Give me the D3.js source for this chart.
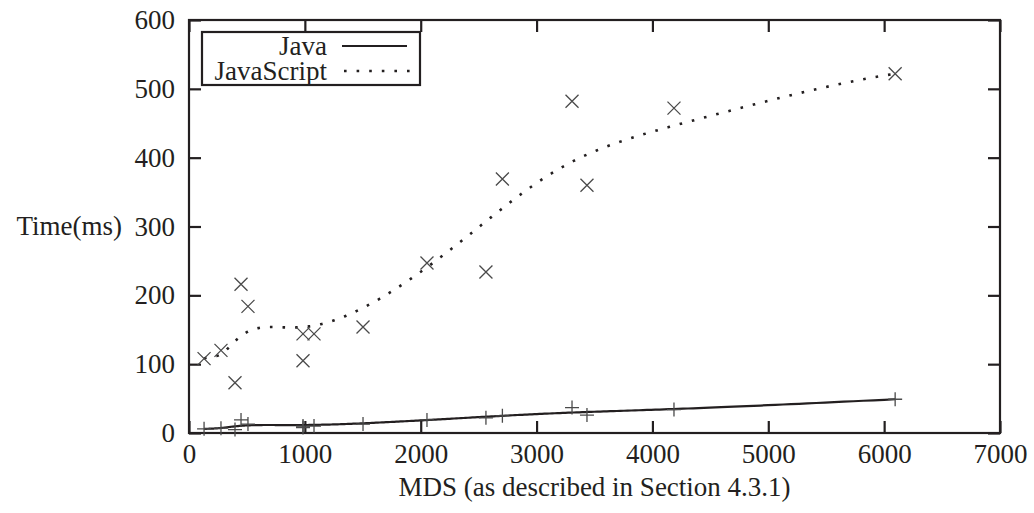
<!DOCTYPE html>
<html>
<head>
<meta charset="utf-8">
<script src="https://cdn.jsdelivr.net/npm/d3@7"></script>
<style>
body{margin:0;background:#fff}
text{font-family:"Liberation Serif","Times New Roman",serif;fill:#231f20}
</style>
</head>
<body>
<div id="chart"></div>
<script>
// values
var mdsSizes = [130, 276, 397, 449, 509, 984, 984, 1079, 1502, 2054, 2563, 2705, 3306, 3435, 4186, 6095]
var javaTimes = [6, 7, 5, 19, 13, 10, 8, 10, 13, 19, 22, 25, 37, 26, 34, 49]
var jsTimes = [108, 120, 73, 216, 184, 144, 105, 144, 154, 247, 234, 369, 482, 360, 472, 522]
var xTicks = [0, 1000, 2000, 3000, 4000, 5000, 6000, 7000]
var yTicks = [0, 100, 200, 300, 400, 500, 600]
var seriesNames = ["Java", "JavaScript"]

var W = 1034, H = 513
var pLeft = 189, pRight = 1000, pTop = 20, pBottom = 433
var ink = "#231f20", markInk = "#4a4a4a"

var svg = d3.select("#chart").append("svg").attr("width", W).attr("height", H)

var x = d3.scaleLinear().domain([0, 7000]).range([pLeft, pRight])
var y = d3.scaleLinear().domain([0, 600]).range([pBottom, pTop])

function styleAxis(g){
	g.select(".domain").remove()
	g.selectAll(".tick line").attr("stroke", ink).attr("stroke-width", 2.2)
	g.selectAll(".tick text").style("font-size", "27px").attr("fill", ink).attr("font-family", "Liberation Serif")
}

svg.append("g").attr("transform", "translate(0," + pBottom + ")")
	.call(d3.axisBottom(x).tickValues(xTicks).tickSize(-12).tickPadding(11).tickFormat(d3.format("d")))
	.call(styleAxis)
svg.append("g").attr("transform", "translate(0," + pTop + ")")
	.call(d3.axisTop(x).tickValues(xTicks).tickSize(-12).tickFormat(""))
	.call(styleAxis)
svg.append("g").attr("transform", "translate(" + pLeft + ",0)")
	.call(d3.axisLeft(y).tickValues(yTicks).tickSize(-12).tickPadding(14).tickFormat(d3.format("d")))
	.call(styleAxis)
svg.append("g").attr("transform", "translate(" + pRight + ",0)")
	.call(d3.axisRight(y).tickValues(yTicks).tickSize(-12).tickFormat(""))
	.call(styleAxis)

svg.append("rect").attr("x", pLeft).attr("y", pTop).attr("width", pRight - pLeft).attr("height", pBottom - pTop)
	.attr("fill", "none").attr("stroke", ink).attr("stroke-width", 2.2)

// axis titles
svg.append("text").attr("x", 122).attr("y", y(300)).attr("dy", "0.33em")
	.attr("text-anchor", "end").style("font-size", "27px").text("Time(ms)")
svg.append("text").attr("x", (pLeft + pRight) / 2).attr("y", 496)
	.attr("text-anchor", "middle").style("font-size", "27px").text("MDS (as described in Section 4.3.1)")

// smooth bezier through all points (like gnuplot "smooth bezier")
function bezierPts(xs, ys){
	var pts = xs.map(function(d, i){return [d, ys[i]]}).sort(function(a, b){return a[0] - b[0]})
	var out = []
	for (var k = 0; k <= 300; k++){
		var t = k / 300
		var p = pts.map(function(q){return q.slice()})
		for (var r = p.length - 1; r > 0; r--){
			for (var i = 0; i < r; i++){
				p[i][0] = p[i][0] * (1 - t) + p[i + 1][0] * t
				p[i][1] = p[i][1] * (1 - t) + p[i + 1][1] * t
			}
		}
		out.push(p[0])
	}
	return out
}

var line = d3.line().x(function(d){return x(d[0])}).y(function(d){return y(d[1])})

svg.append("path").attr("d", line(bezierPts(mdsSizes, javaTimes)))
	.attr("fill", "none").attr("stroke", ink).attr("stroke-width", 2.2)
svg.append("path").attr("d", line(bezierPts(mdsSizes, jsTimes)))
	.attr("fill", "none").attr("stroke", ink).attr("stroke-width", 2.6).attr("stroke-dasharray", "2.6 10")

// markers
var s = 7
svg.append("g").selectAll("path").data(mdsSizes).enter().append("path")
	.attr("d", function(d, i){var cx = x(d), cy = y(javaTimes[i])
		return "M" + (cx - s) + "," + cy + "H" + (cx + s) + "M" + cx + "," + (cy - s) + "V" + (cy + s)})
	.attr("stroke", markInk).attr("stroke-width", 1.3).attr("fill", "none")
var c = 6.5
svg.append("g").selectAll("path").data(mdsSizes).enter().append("path")
	.attr("d", function(d, i){var cx = x(d), cy = y(jsTimes[i])
		return "M" + (cx - c) + "," + (cy - c) + "L" + (cx + c) + "," + (cy + c) + "M" + (cx - c) + "," + (cy + c) + "L" + (cx + c) + "," + (cy - c)})
	.attr("stroke", markInk).attr("stroke-width", 1.3).attr("fill", "none")

// legend
var lg = svg.append("g")
lg.append("rect").attr("x", 202).attr("y", 32).attr("width", 218).attr("height", 53)
	.attr("fill", "#fff").attr("stroke", ink).attr("stroke-width", 2.2)
var rowY = [46, 71]
lg.selectAll("text").data(seriesNames).enter().append("text")
	.attr("x", 327).attr("y", function(d, i){return rowY[i]}).attr("dy", "0.33em")
	.attr("text-anchor", "end").style("font-size", "27px").text(function(d){return d})
lg.append("line").attr("x1", 342).attr("x2", 407).attr("y1", rowY[0]).attr("y2", rowY[0])
	.attr("stroke", ink).attr("stroke-width", 2.2)
lg.append("line").attr("x1", 344).attr("x2", 410).attr("y1", rowY[1]).attr("y2", rowY[1])
	.attr("stroke", ink).attr("stroke-width", 2.6).attr("stroke-dasharray", "2.6 10")
</script>
</body>
</html>
